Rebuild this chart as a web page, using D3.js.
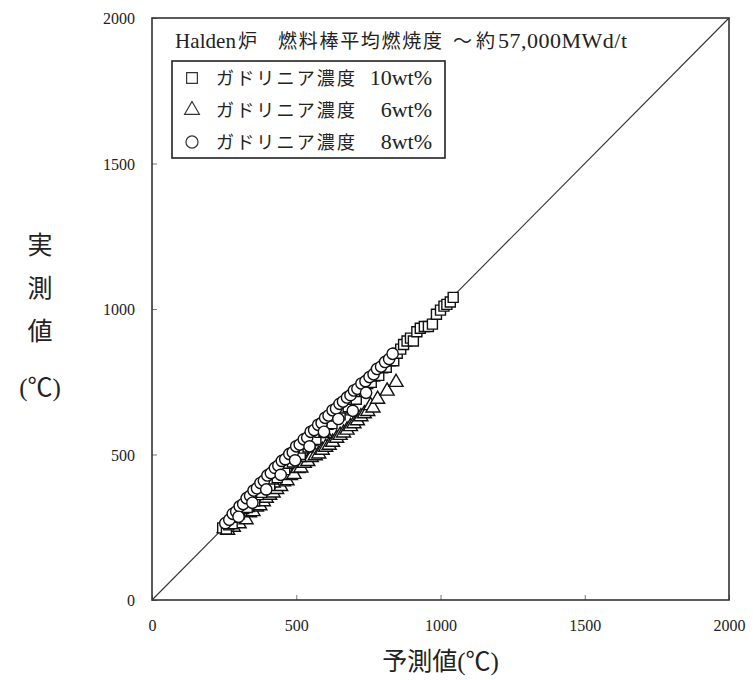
<!DOCTYPE html>
<html>
<head>
<meta charset="utf-8">
<script src="https://cdn.jsdelivr.net/npm/d3@7"></script>
<style>
  body { margin: 0; background: #fff; }
  svg text { font-family: "Liberation Serif", "Noto Sans CJK JP", serif; fill: #222; }
</style>
</head>
<body>
<svg id="chart" width="753" height="680"></svg>
<script>
// Gadolinia 10wt% rods: [predicted, measured] (°C)
const gd10 = [
  [245,248],[258,244],[266,258],[278,262],[290,284],[303,296],[318,314],[330,318],[342,338],
  [356,340],[368,362],[380,370],[394,388],[408,394],[420,416],[434,420],[447,444],[460,448],
  [474,470],[487,474],[500,495],[514,500],[528,522],[541,526],[555,548],[568,552],[582,576],
  [596,580],[610,604],[624,606],[638,632],[652,636],[666,660],[680,664],[694,690],[708,690],
  [722,716],[736,718],[748,744],[760,748],[772,770],[786,772],[800,798],[812,800],[826,822],
  [838,822],[850,848],[862,862],[872,878],[884,890],[896,900],[906,890],[918,922],[930,934],
  [944,940],[958,940],[972,948],[986,982],[1000,996],[1012,1010],[1022,1016],[1034,1024],[1044,1040]
];
// Gadolinia 6wt% rods
const gd6 = [
  [250,246],[262,240],[272,256],[282,250],[292,270],[302,262],[316,284],[326,276],[338,300],
  [350,304],[362,320],[374,324],[386,338],[396,350],[408,360],[420,368],[432,380],[446,390],
  [456,406],[468,410],[480,428],[492,432],[506,452],[516,454],[528,470],[540,476],[552,490],
  [566,496],[578,502],[590,515],[602,525],[614,532],[626,542],[640,556],[652,566],[664,574],
  [676,584],[688,596],[700,606],[712,616],[724,630],[736,640],[748,648],[758,668],[766,660],
  [782,690],[815,718],[846,748],[330,318],[420,402],[510,490],[600,572],[690,650]
];
// Gadolinia 8wt% rods
const gd8 = [
  [254,264],[268,276],[280,296],[292,304],[304,322],[316,330],[328,350],[340,358],[352,376],
  [364,384],[376,402],[388,410],[400,428],[412,436],[426,454],[438,462],[450,478],[462,484],
  [476,502],[488,508],[500,528],[512,534],[526,552],[538,558],[550,578],[562,584],[576,602],
  [588,608],[600,626],[612,634],[626,652],[638,658],[650,674],[662,682],[676,696],[688,704],
  [700,720],[712,726],[726,744],[740,752],[754,766],[768,776],[780,794],[794,802],[808,818],
  [822,828],[834,846],
  [300,286],[348,334],[396,380],[446,430],[496,480],[546,528],[596,578],[646,622],[696,650],[742,712]
];

const xTicks = [0, 500, 1000, 1500, 2000];
const yTicks = [0, 500, 1000, 1500, 2000];
const titleParts = ["Halden", "炉", "燃料棒平均燃焼度", "～約", "57,000MWd/t"];
const legendItems = [
  { shape: "square",   name: "ガドリニア濃度", conc: "10wt%" },
  { shape: "triangle", name: "ガドリニア濃度", conc: "6wt%" },
  { shape: "circle",   name: "ガドリニア濃度", conc: "8wt%" }
];
const xLabel = "予測値(℃)";
const yLabelChars = ["実", "測", "値"];
const yLabelUnit = "(℃)";

const svg = d3.select("#chart");
const m = { left: 152, right: 729, top: 18, bottom: 600 };

const x = d3.scaleLinear().domain([0, 2000]).range([m.left, m.right]);
const y = d3.scaleLinear().domain([0, 2000]).range([m.bottom, m.top]);

// axes: labels outside, short ticks pointing inwards
const xAxis = svg.append("g").attr("transform", `translate(0,${m.bottom})`)
  .call(d3.axisBottom(x).tickValues(xTicks).tickSize(-5).tickPadding(20).tickFormat(d3.format("d")));
const yAxis = svg.append("g").attr("transform", `translate(${m.left},0)`)
  .call(d3.axisLeft(y).tickValues(yTicks).tickSize(-5).tickPadding(17).tickFormat(d3.format("d")));
[xAxis, yAxis].forEach(g => {
  g.select(".domain").remove();
  g.selectAll(".tick line").attr("stroke", "#777").attr("stroke-width", 1);
  g.selectAll(".tick text").style("font-size", "16px").attr("fill", "#222");
});
yAxis.selectAll(".tick text").attr("dy", "0.35em");

// 1:1 line
svg.append("line")
  .attr("x1", x(0)).attr("y1", y(0)).attr("x2", x(2000)).attr("y2", y(2000))
  .attr("stroke", "#333").attr("stroke-width", 1.1);

const sym = {
  square: d3.symbol().type(d3.symbolSquare).size(100),
  triangle: d3.symbol().type(d3.symbolTriangle).size(85),
  circle: d3.symbol().type(d3.symbolCircle).size(100)
};

function drawSeries(data, shape) {
  svg.append("g").selectAll("path").data(data).join("path")
    .attr("d", sym[shape])
    .attr("transform", d => `translate(${x(d[0])},${y(d[1])})`)
    .attr("fill", "#fff").attr("stroke", "#111").attr("stroke-width", 1.4);
}
drawSeries(gd6, "triangle");
drawSeries(gd10, "square");
drawSeries(gd8, "circle");

// plot frame
svg.append("rect")
  .attr("x", m.left).attr("y", m.top)
  .attr("width", m.right - m.left).attr("height", m.bottom - m.top)
  .attr("fill", "none").attr("stroke", "#333").attr("stroke-width", 1.6);

// title inside plot, laid out piece by piece
const titleLayout = [
  { x: 175, size: 21, len: 61 },
  { x: 238, size: 19, len: 19 },
  { x: 278, size: 19, len: 164 },
  { x: 453, size: 19, len: 42 },
  { x: 498, size: 22, len: 129 }
];
titleParts.forEach((t, i) => {
  const L = titleLayout[i];
  svg.append("text").attr("x", L.x).attr("y", 48)
    .style("font-size", L.size + "px")
    .attr("textLength", L.len).attr("lengthAdjust", "spacing")
    .text(t);
});

// legend
const lg = svg.append("g");
lg.append("rect").attr("x", 172).attr("y", 61).attr("width", 273).attr("height", 97)
  .attr("fill", "#fff").attr("stroke", "#222").attr("stroke-width", 1.6);
legendItems.forEach((it, i) => {
  const cy = 78 + i * 32;
  lg.append("path").attr("d", d3.symbol().type(
      it.shape === "square" ? d3.symbolSquare : it.shape === "triangle" ? d3.symbolTriangle : d3.symbolCircle
    ).size(it.shape === "triangle" ? 95 : 115))
    .attr("transform", `translate(192,${cy})`)
    .attr("fill", "#fff").attr("stroke", "#333").attr("stroke-width", 1.2);
  lg.append("text").attr("x", 216).attr("y", cy + 7)
    .style("font-size", "18px")
    .attr("textLength", 139).attr("lengthAdjust", "spacing")
    .text(it.name);
  lg.append("text").attr("x", 432).attr("y", cy + 7).attr("text-anchor", "end")
    .style("font-size", "22px").text(it.conc);
});

// axis titles
svg.append("text").attr("x", x(1000)).attr("y", 670).attr("text-anchor", "middle")
  .style("font-size", "25px").text(xLabel);
yLabelChars.forEach((c, i) => {
  svg.append("text").attr("x", 40).attr("y", 254 + i * 43).attr("text-anchor", "middle")
    .style("font-size", "25px").text(c);
});
svg.append("text").attr("x", 40).attr("y", 396).attr("text-anchor", "middle")
  .style("font-size", "25px").text(yLabelUnit);
</script>
</body>
</html>
